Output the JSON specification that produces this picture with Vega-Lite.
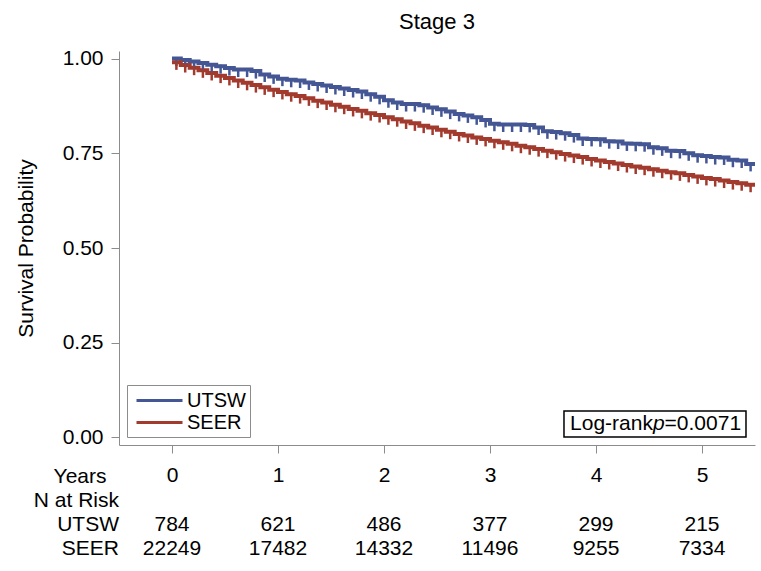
{
  "$schema": "https://vega.github.io/schema/vega-lite/v6.json",
  "padding": {"left": 15, "top": 10, "right": 4, "bottom": 5},
  "background": "white",
  "width": 636,
  "height": 394,
  "config": {
    "font": "Liberation Sans",
    "view": {"stroke": null},
    "axis": {"grid": false, "domainColor": "#8c8c8c", "tickColor": "#8c8c8c", "labelColor": "black", "titleColor": "black", "labelFontSize": 21, "titleFontSize": 21, "titleFontWeight": "normal", "labelFont": "Liberation Sans", "titleFont": "Liberation Sans"},
    "legend": {"labelFont": "Liberation Sans"},
    "title": {"font": "Liberation Sans"}
  },
  "title": {"text": "Stage 3", "fontSize": 22, "fontWeight": "normal", "frame": "group", "anchor": "middle", "offset": 14, "color": "black"},
  "datasets": {
    "km": [
      {"t":0,"UTSW":1.000,"SEER":0.990},{"t":0.083,"UTSW":0.996,"SEER":0.983},{"t":0.167,"UTSW":0.992,"SEER":0.976},{"t":0.25,"UTSW":0.988,"SEER":0.969},{"t":0.333,"UTSW":0.984,"SEER":0.962},{"t":0.417,"UTSW":0.980,"SEER":0.955},{"t":0.5,"UTSW":0.975,"SEER":0.949},{"t":0.583,"UTSW":0.971,"SEER":0.942},{"t":0.667,"UTSW":0.971,"SEER":0.936},{"t":0.75,"UTSW":0.967,"SEER":0.930},{"t":0.833,"UTSW":0.958,"SEER":0.924},{"t":0.917,"UTSW":0.953,"SEER":0.918},
      {"t":1,"UTSW":0.947,"SEER":0.912},{"t":1.083,"UTSW":0.944,"SEER":0.906},{"t":1.167,"UTSW":0.942,"SEER":0.901},{"t":1.25,"UTSW":0.937,"SEER":0.895},{"t":1.333,"UTSW":0.933,"SEER":0.889},{"t":1.417,"UTSW":0.929,"SEER":0.884},{"t":1.5,"UTSW":0.925,"SEER":0.878},{"t":1.583,"UTSW":0.921,"SEER":0.873},{"t":1.667,"UTSW":0.917,"SEER":0.867},{"t":1.75,"UTSW":0.913,"SEER":0.862},{"t":1.833,"UTSW":0.906,"SEER":0.856},{"t":1.917,"UTSW":0.899,"SEER":0.851},
      {"t":2,"UTSW":0.890,"SEER":0.845},{"t":2.083,"UTSW":0.884,"SEER":0.840},{"t":2.167,"UTSW":0.880,"SEER":0.834},{"t":2.25,"UTSW":0.880,"SEER":0.829},{"t":2.333,"UTSW":0.877,"SEER":0.823},{"t":2.417,"UTSW":0.871,"SEER":0.818},{"t":2.5,"UTSW":0.866,"SEER":0.812},{"t":2.583,"UTSW":0.860,"SEER":0.807},{"t":2.667,"UTSW":0.854,"SEER":0.801},{"t":2.75,"UTSW":0.850,"SEER":0.797},{"t":2.833,"UTSW":0.845,"SEER":0.792},{"t":2.917,"UTSW":0.838,"SEER":0.788},
      {"t":3,"UTSW":0.828,"SEER":0.783},{"t":3.083,"UTSW":0.826,"SEER":0.779},{"t":3.167,"UTSW":0.826,"SEER":0.775},{"t":3.25,"UTSW":0.826,"SEER":0.770},{"t":3.333,"UTSW":0.825,"SEER":0.766},{"t":3.417,"UTSW":0.818,"SEER":0.761},{"t":3.5,"UTSW":0.808,"SEER":0.757},{"t":3.583,"UTSW":0.806,"SEER":0.753},{"t":3.667,"UTSW":0.803,"SEER":0.748},{"t":3.75,"UTSW":0.798,"SEER":0.744},{"t":3.833,"UTSW":0.789,"SEER":0.740},{"t":3.917,"UTSW":0.788,"SEER":0.735},
      {"t":4,"UTSW":0.787,"SEER":0.731},{"t":4.083,"UTSW":0.782,"SEER":0.727},{"t":4.167,"UTSW":0.781,"SEER":0.723},{"t":4.25,"UTSW":0.776,"SEER":0.719},{"t":4.333,"UTSW":0.775,"SEER":0.715},{"t":4.417,"UTSW":0.774,"SEER":0.712},{"t":4.5,"UTSW":0.766,"SEER":0.708},{"t":4.583,"UTSW":0.763,"SEER":0.704},{"t":4.667,"UTSW":0.757,"SEER":0.700},{"t":4.75,"UTSW":0.756,"SEER":0.697},{"t":4.833,"UTSW":0.750,"SEER":0.693},{"t":4.917,"UTSW":0.745,"SEER":0.689},
      {"t":5,"UTSW":0.743,"SEER":0.685},{"t":5.083,"UTSW":0.740,"SEER":0.682},{"t":5.167,"UTSW":0.739,"SEER":0.678},{"t":5.25,"UTSW":0.733,"SEER":0.674},{"t":5.333,"UTSW":0.731,"SEER":0.671},{"t":5.417,"UTSW":0.722,"SEER":0.667},{"t":5.5,"UTSW":0.718,"SEER":0.663}
    ],
    "risk": [
      {"t":0,"g":"UTSW","n":"784"},{"t":1,"g":"UTSW","n":"621"},{"t":2,"g":"UTSW","n":"486"},{"t":3,"g":"UTSW","n":"377"},{"t":4,"g":"UTSW","n":"299"},{"t":5,"g":"UTSW","n":"215"},
      {"t":0,"g":"SEER","n":"22249"},{"t":1,"g":"SEER","n":"17482"},{"t":2,"g":"SEER","n":"14332"},{"t":3,"g":"SEER","n":"11496"},{"t":4,"g":"SEER","n":"9255"},{"t":5,"g":"SEER","n":"7334"}
    ],
    "one": [{}]
  },
  "layer": [
    {
      "data": {"name": "km"},
      "transform": [{"fold": ["UTSW", "SEER"], "as": ["g", "s"]}],
      "mark": {"type": "line", "interpolate": "step-after", "strokeWidth": 4, "clip": true},
      "encoding": {
        "x": {"field": "t", "type": "quantitative", "scale": {"domain": [-0.5, 5.5], "nice": false, "zero": false},
              "axis": {"values": [0, 1, 2, 3, 4, 5], "format": "d", "tickSize": 8, "labelPadding": 11, "title": "Years", "titleX": -13, "titleY": 31, "titleAlign": "right", "titleBaseline": "middle", "labelFlush": false}},
        "y": {"field": "s", "type": "quantitative", "scale": {"domain": [-0.02, 1.02], "nice": false, "zero": false},
              "axis": {"values": [0, 0.25, 0.5, 0.75, 1], "format": ".2f", "tickSize": 8, "labelPadding": 8, "title": "Survival Probability", "titlePadding": 26}},
        "color": {"field": "g", "type": "nominal", "scale": {"domain": ["UTSW", "SEER"], "range": ["#445694", "#A23A2E"]},
                  "legend": {"title": null, "orient": "bottom-left", "offset": 8, "symbolType": "M-0.6,0H4", "symbolSize": 400, "symbolStrokeWidth": 3, "labelFontSize": 20, "labelColor": "black", "strokeColor": "#8c8c8c", "fillColor": "white", "padding": 4, "labelOffset": 33, "rowPadding": 0}}
      }
    },
    {
      "data": {"name": "km"},
      "transform": [{"fold": ["UTSW", "SEER"], "as": ["g", "s"]}],
      "mark": {"type": "tick", "orient": "vertical", "size": 9, "thickness": 2.5, "xOffset": 4.4, "yOffset": 3, "clip": true, "opacity": 1},
      "encoding": {
        "x": {"field": "t", "type": "quantitative"},
        "y": {"field": "s", "type": "quantitative"},
        "color": {"field": "g", "type": "nominal",
                  "legend": {"title": null, "orient": "bottom-left", "offset": 8, "symbolType": "M-0.6,0H4", "symbolSize": 400, "symbolStrokeWidth": 3, "labelFontSize": 20, "labelColor": "black", "strokeColor": "#8c8c8c", "fillColor": "white", "padding": 4, "labelOffset": 33, "rowPadding": 0}}
      }
    },
    {
      "data": {"name": "one"},
      "mark": {"type": "rect", "fill": "white", "stroke": "black", "strokeWidth": 1.5},
      "encoding": {
        "x": {"datum": 3.698, "type": "quantitative"},
        "x2": {"datum": 5.415},
        "y": {"datum": 0.0013, "type": "quantitative"},
        "y2": {"datum": 0.070}
      }
    },
    {
      "data": {"name": "one"},
      "mark": {"type": "text", "align": "right", "baseline": "middle", "fontSize": 21, "color": "black", "text": "Log-rank"},
      "encoding": {"x": {"datum": 4.537, "type": "quantitative"}, "y": {"datum": 0.0357, "type": "quantitative"}}
    },
    {
      "data": {"name": "one"},
      "mark": {"type": "text", "align": "left", "baseline": "middle", "fontSize": 21, "fontStyle": "italic", "color": "black", "text": "p"},
      "encoding": {"x": {"datum": 4.537, "type": "quantitative"}, "y": {"datum": 0.0357, "type": "quantitative"}}
    },
    {
      "data": {"name": "one"},
      "mark": {"type": "text", "align": "left", "baseline": "middle", "fontSize": 21, "color": "black", "text": "=0.0071"},
      "encoding": {"x": {"datum": 4.647, "type": "quantitative"}, "y": {"datum": 0.0357, "type": "quantitative"}}
    },
    {
      "data": {"name": "one"},
      "mark": {"type": "text", "align": "right", "baseline": "middle", "fontSize": 21, "color": "black", "text": "N at Risk", "clip": false},
      "encoding": {"x": {"datum": -0.5, "type": "quantitative"}, "y": {"datum": -0.168, "type": "quantitative"}}
    },
    {
      "data": {"name": "one"},
      "mark": {"type": "text", "align": "right", "baseline": "middle", "fontSize": 21, "color": "black", "text": "UTSW", "clip": false},
      "encoding": {"x": {"datum": -0.5, "type": "quantitative"}, "y": {"datum": -0.231, "type": "quantitative"}}
    },
    {
      "data": {"name": "one"},
      "mark": {"type": "text", "align": "right", "baseline": "middle", "fontSize": 21, "color": "black", "text": "SEER", "clip": false},
      "encoding": {"x": {"datum": -0.5, "type": "quantitative"}, "y": {"datum": -0.295, "type": "quantitative"}}
    },
    {
      "data": {"name": "risk"},
      "transform": [{"filter": "datum.g === 'UTSW'"}],
      "mark": {"type": "text", "align": "center", "baseline": "middle", "fontSize": 21, "color": "black", "clip": false},
      "encoding": {"x": {"field": "t", "type": "quantitative"}, "y": {"datum": -0.231, "type": "quantitative"}, "text": {"field": "n"}}
    },
    {
      "data": {"name": "risk"},
      "transform": [{"filter": "datum.g === 'SEER'"}],
      "mark": {"type": "text", "align": "center", "baseline": "middle", "fontSize": 21, "color": "black", "clip": false},
      "encoding": {"x": {"field": "t", "type": "quantitative"}, "y": {"datum": -0.295, "type": "quantitative"}, "text": {"field": "n"}}
    }
  ]
}
